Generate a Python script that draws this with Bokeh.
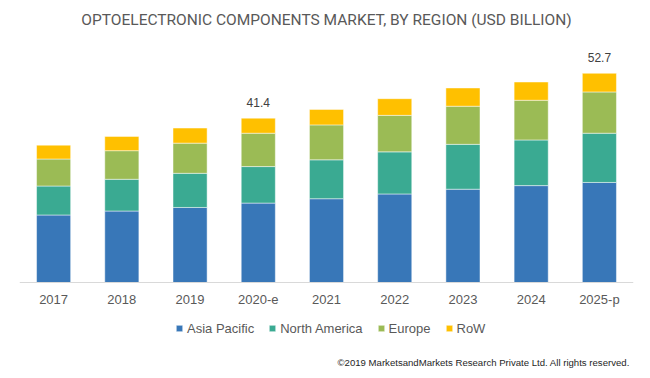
from bokeh.plotting import figure
from bokeh.models import Range1d, Legend, LegendItem, Label, ColumnDataSource
from bokeh.core.properties import value
from bokeh.embed import file_html
from bokeh.resources import INLINE

categories = ["2017", "2018", "2019", "2020-e", "2021", "2022", "2023", "2024", "2025-p"]
asia_pacific = [17.0, 18.0, 18.9, 20.0, 21.1, 22.3, 23.5, 24.4, 25.2]
north_america = [7.3, 8.0, 8.6, 9.2, 9.8, 10.6, 11.3, 11.5, 12.4]
europe = [6.8, 7.2, 7.6, 8.4, 8.8, 9.2, 9.6, 10.0, 10.4]
rest_of_world = [3.5, 3.6, 3.8, 3.8, 3.9, 4.2, 4.6, 4.6, 4.7]

series_names = ["Asia Pacific", "North America", "Europe", "RoW"]
series_colors = ["#3877B8", "#3AAA92", "#9BBB55", "#FFC000"]

label_categories = ["2020-e", "2025-p"]
label_values = [41.4, 52.7]

title_text = "OPTOELECTRONIC COMPONENTS MARKET, BY REGION (USD BILLION)"
copyright_text = "\u00a92019 MarketsandMarkets  Research Private Ltd. All rights reserved."

source = ColumnDataSource(data=dict(
    year=categories,
    ap=asia_pacific,
    na=north_america,
    eu=europe,
    row=rest_of_world,
))

# frame spans the whole height; value axis baseline sits at y = 0
p = figure(x_range=categories, y_range=Range1d(-22.17, 71.03), width=642, height=370,
           output_backend="svg", toolbar_location=None, title=None,
           y_axis_location=None, min_border_left=19, min_border_right=9,
           min_border_top=0, min_border_bottom=0)
p.outline_line_color = None
p.xgrid.visible = False
p.ygrid.visible = False
p.background_fill_color = "white"
p.border_fill_color = "white"

renderers = p.vbar_stack(["ap", "na", "eu", "row"], x="year", width=0.5, source=source,
                         color=series_colors, line_color="white", line_width=0.8,
                         line_alpha=0.6)

ax = p.xaxis[0]
ax.fixed_location = 0
ax.axis_line_color = "#D9D9D9"
ax.axis_line_width = 1
ax.major_tick_line_color = None
ax.minor_tick_line_color = None
ax.major_tick_out = 0
ax.major_label_standoff = 10
ax.major_label_text_font = "Liberation Sans"
ax.major_label_text_font_size = "13px"
ax.major_label_text_color = "#595959"

lsrc = ColumnDataSource(data=dict(x=label_categories, y=label_values,
                                  t=[f"{v:.1f}" for v in label_values]))
p.text(x="x", y="y", text="t", source=lsrc, text_align="center", text_baseline="middle",
       y_offset=-16, text_font=value("Liberation Sans"), text_font_size="12px",
       text_color="#404040")

legend = Legend(items=[LegendItem(label=n, renderers=[r]) for n, r in zip(series_names, renderers)],
                location=(156, 32), orientation="horizontal", padding=0, margin=0,
                spacing=14, label_standoff=4, glyph_width=8, glyph_height=8,
                label_height=20, border_line_color=None, background_fill_alpha=0,
                label_text_font="Liberation Sans", label_text_font_size="13px",
                label_text_color="#595959")
p.add_layout(legend, "center")

title = Label(x=307, y=351, x_units="screen", y_units="screen", text=title_text,
              text_align="center", text_baseline="middle", text_font="Roboto",
              text_font_size="15.5px", text_color="#595959")
p.add_layout(title)

copy_lbl = Label(x=613, y=8, x_units="screen", y_units="screen", text=copyright_text,
                 text_align="right", text_baseline="middle", text_font="Liberation Sans",
                 text_font_size="9.6px", text_color="#262626")
p.add_layout(copy_lbl)

open("out.html", "w").write(file_html(p, INLINE))
